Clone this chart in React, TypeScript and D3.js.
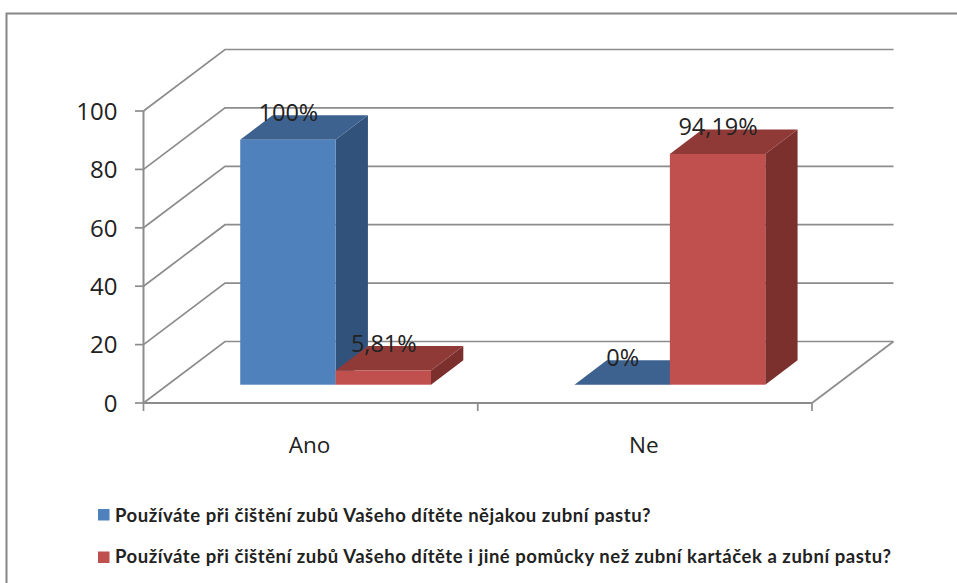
import React from "react";
import * as d3 from "d3";

const categories = ["Ano", "Ne"];
const seriesNames = [
  "Používáte při čištění zubů Vašeho dítěte nějakou zubní pastu?",
  "Používáte při čištění zubů Vašeho dítěte i jiné pomůcky než zubní kartáček a zubní pastu?",
];
const pasteValues = [100, 0];
const otherAidValues = [5.81, 94.19];
const valueLabels = [
  ["100%", "0%"],
  ["5,81%", "94,19%"],
];
const axisTicks = [0, 20, 40, 60, 80, 100];

const frontColors = ["#4f81bd", "#c0504d"];
const topColors = ["#3d6290", "#903a38"];
const sideColors = ["#31527a", "#7b302e"];
const gridColor = "#8c8c8c";
const textColor = "#222222";
const labelFont = "'Open Sans', sans-serif";
const legendFont = "Lato, sans-serif";

// Oblique projection of the chart box
const depthX = 81.5;
const depthY = -61.5;
const barDepthX = 32.3;
const barDepthY = -24.4;

const xAxis = d3.scaleBand<string>().domain(categories).range([143.5, 812]);
const yAxis = d3.scaleLinear().domain([0, 100]).range([403, 111]);
// Bars stand on the mid-depth floor line and use their own vertical scale
const barBase = 384.7;
const yBar = d3.scaleLinear().domain([0, 100]).range([barBase, 139.7]);
const barWidth = 95.4;
const groupShift = 25;

const points = (pts: [number, number][]) => pts.map((p) => p.join(",")).join(" ");

export default function App() {
  const series = [pasteValues, otherAidValues];
  const wallLeft = 143.5 + depthX;
  const wallRight = 812 + depthX;

  return (
    <svg
      width={957}
      height={583}
      viewBox="0 0 957 583"
      style={{ position: "fixed", left: 0, top: 0, background: "#ffffff" }}
    >
      {/* Outer frame, cut off by the right and bottom edges */}
      <path d="M6.5,583 V13.5 H957" fill="none" stroke="#868686" strokeWidth={2} />

      {/* Back wall gridlines with their side-wall diagonals */}
      {axisTicks.map((t) => (
        <g key={t} stroke={gridColor} strokeWidth={1.7} fill="none">
          <polyline
            points={points([
              [143.5, yAxis(t)],
              [wallLeft, yAxis(t) + depthY],
              [wallRight, yAxis(t) + depthY],
            ])}
          />
          <line x1={135} x2={143.5} y1={yAxis(t)} y2={yAxis(t)} />
        </g>
      ))}

      {/* Value axis, front floor edge and category ticks */}
      <g stroke={gridColor} strokeWidth={2} fill="none">
        <line x1={143.5} x2={143.5} y1={yAxis(100)} y2={yAxis(0)} />
        <line x1={143.5} x2={812} y1={yAxis(0)} y2={yAxis(0)} />
        <line x1={812} y1={yAxis(0)} x2={wallRight} y2={yAxis(0) + depthY} strokeWidth={1.7} />
        {[...xAxis.domain().map((c) => xAxis(c) as number), 812].map((x) => (
          <line key={x} x1={x} x2={x} y1={yAxis(0)} y2={yAxis(0) + 8} strokeWidth={1.7} />
        ))}
      </g>

      {axisTicks.map((t) => (
        <text
          key={t}
          x={117.5}
          y={yAxis(t) + 8.8}
          textAnchor="end"
          fontFamily={labelFont}
          fontSize={24}
          fill={textColor}
        >
          {t}
        </text>
      ))}

      {categories.map((c) => (
        <text
          key={c}
          x={(xAxis(c) as number) + xAxis.bandwidth() / 2 - 1}
          y={453}
          textAnchor="middle"
          fontFamily={labelFont}
          fontSize={22.5}
          fill={textColor}
        >
          {c}
        </text>
      ))}

      {/* Bars: front, top and side faces */}
      {categories.map((c, ci) =>
        series.map((values, si) => {
          const x0 = (xAxis(c) as number) + xAxis.bandwidth() / 2 + groupShift - barWidth + si * barWidth;
          const x1 = x0 + barWidth;
          const top = yBar(values[ci]);
          return (
            <g key={`${c}-${si}`}>
              <polygon
                fill={sideColors[si]}
                points={points([
                  [x1, top],
                  [x1 + barDepthX, top + barDepthY],
                  [x1 + barDepthX, barBase + barDepthY],
                  [x1, barBase],
                ])}
              />
              <polygon
                fill={topColors[si]}
                points={points([
                  [x0, top],
                  [x0 + barDepthX, top + barDepthY],
                  [x1 + barDepthX, top + barDepthY],
                  [x1, top],
                ])}
              />
              <rect x={x0} y={top} width={barWidth} height={barBase - top} fill={frontColors[si]} />
            </g>
          );
        })
      )}

      {/* Value labels sit above the bar tops */}
      {categories.map((c, ci) =>
        series.map((values, si) => {
          const x0 = (xAxis(c) as number) + xAxis.bandwidth() / 2 + groupShift - barWidth + si * barWidth;
          return (
            <text
              key={`${c}-${si}-label`}
              x={x0 + barWidth / 2 + 0.5}
              y={yBar(values[ci]) - 18.5}
              textAnchor="middle"
              fontFamily={labelFont}
              fontSize={23.5}
              fill={textColor}
            >
              {valueLabels[si][ci]}
            </text>
          );
        })
      )}

      {/* Legend */}
      {seriesNames.map((name, i) => (
        <g key={name}>
          <rect x={98} y={509 + i * 42.5} width={11.5} height={11.5} fill={frontColors[i]} />
          <text
            x={115}
            y={521.5 + i * 41}
            fontFamily={legendFont}
            fontWeight={700}
            fontSize={18.5}
            letterSpacing={0.54}
            fill={textColor}
          >
            {name}
          </text>
        </g>
      ))}
    </svg>
  );
}
